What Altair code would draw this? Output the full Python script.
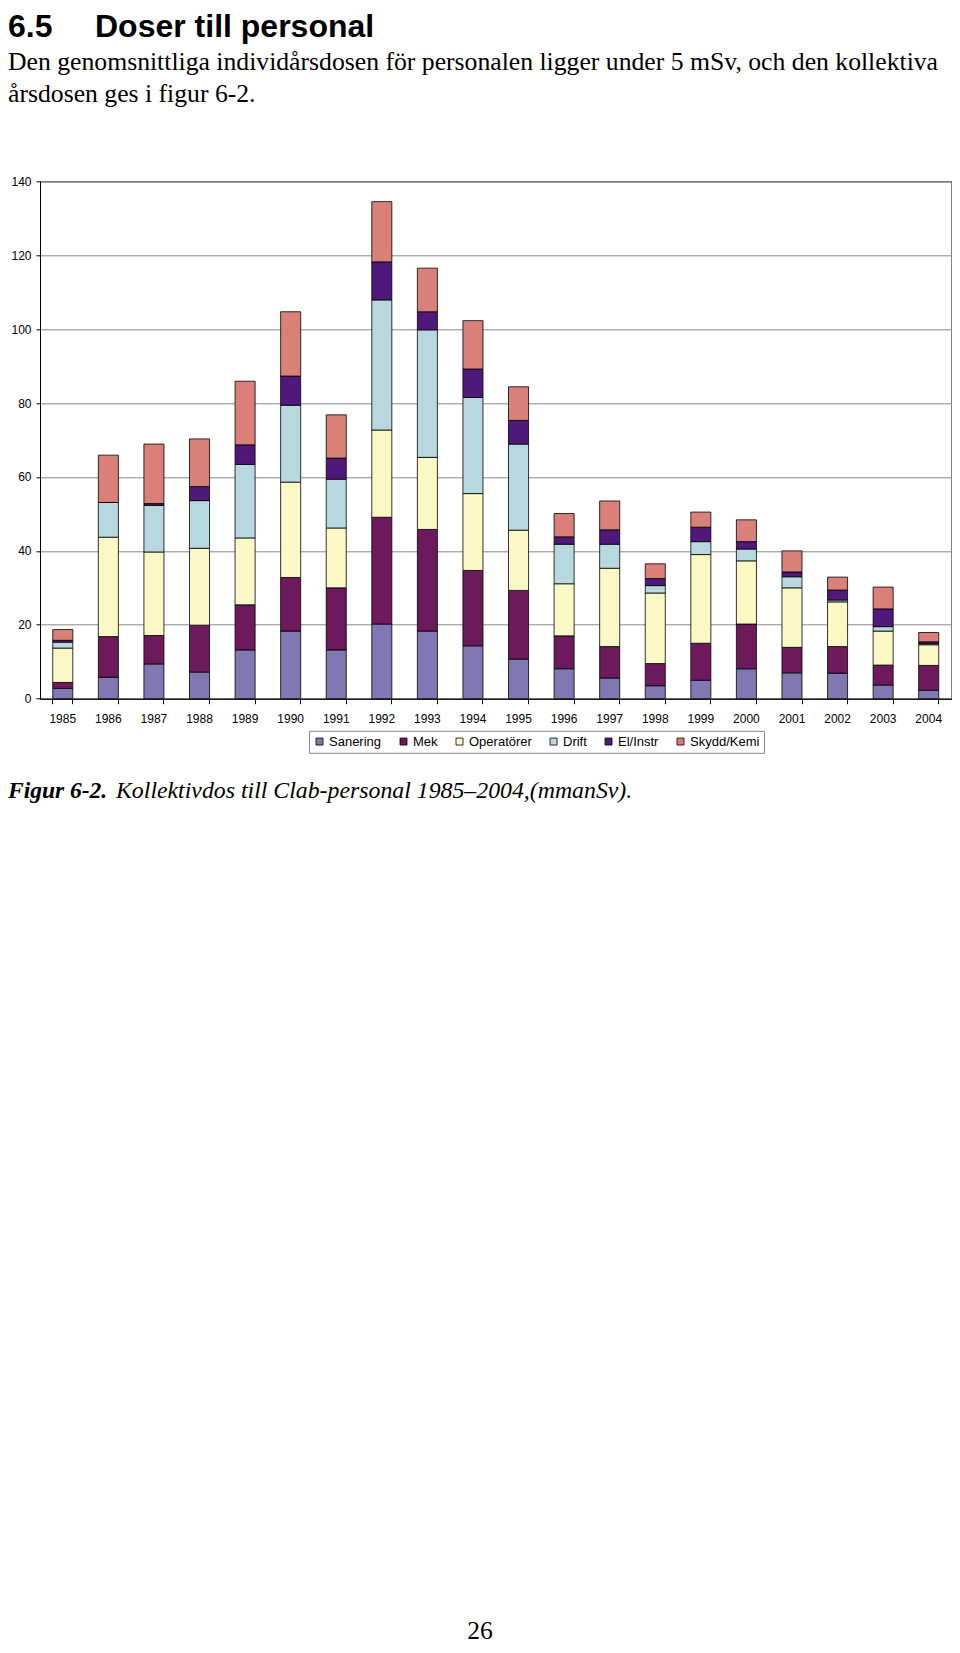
import altair as alt
import pandas as pd

# ---------------- data ----------------
years = ["1985", "1986", "1987", "1988", "1989", "1990", "1991", "1992", "1993", "1994",
         "1995", "1996", "1997", "1998", "1999", "2000", "2001", "2002", "2003", "2004"]
categories = ["Sanering", "Mek", "Operatörer", "Drift", "El/Instr", "Skydd/Kemi"]

sanering   = [2.8, 5.8, 9.4, 7.2, 13.2, 18.3, 13.2, 20.2, 18.3, 14.3, 10.7, 8.1, 5.6, 3.5, 5.0, 8.1, 7.0, 6.9, 3.7, 2.3]
mek        = [1.6, 11.0, 7.7, 12.7, 12.2, 14.5, 16.8, 28.9, 27.5, 20.4, 18.6, 8.9, 8.5, 6.0, 10.0, 12.1, 6.9, 7.2, 5.4, 6.7]
operatorer = [9.3, 26.9, 22.6, 20.8, 18.1, 25.8, 16.2, 23.6, 19.5, 20.8, 16.3, 14.1, 21.2, 19.1, 24.0, 17.1, 16.1, 12.1, 9.2, 5.6]
drift      = [1.6, 9.4, 12.6, 12.9, 19.9, 20.8, 13.2, 35.2, 34.5, 26.0, 23.3, 10.7, 6.5, 2.0, 3.5, 3.2, 3.0, 0.5, 1.2, 0.3]
el_instr   = [0.5, 0.0, 0.5, 3.8, 5.3, 7.9, 5.7, 10.3, 4.9, 7.7, 6.4, 2.0, 3.9, 1.9, 3.9, 2.0, 1.3, 2.7, 4.8, 0.5]
skydd_kemi = [2.9, 12.8, 16.1, 12.9, 17.2, 17.4, 11.7, 16.3, 11.8, 13.1, 9.1, 6.3, 7.8, 4.0, 4.1, 5.9, 5.7, 3.5, 5.9, 2.5]

colors = ["#8078B2", "#6D1A5C", "#FBF8C6", "#B8D8DF", "#50187A", "#D98079"]
y_ticks = [0, 20, 40, 60, 80, 100, 120, 140]

heading_num = "6.5"
heading_text = "Doser till personal"
para_lines = ["Den genomsnittliga individårsdosen för personalen ligger under 5 mSv, och den kollektiva",
              "årsdosen ges i figur 6-2."]
caption_bold = "Figur 6-2."
caption_rest = "Kollektivdos till Clab-personal 1985–2004,(mmanSv)."
page_number = "26"

# ---------------- table ----------------
series = [sanering, mek, operatorer, drift, el_instr, skydd_kemi]
rows = []
for k, (cat, vals) in enumerate(zip(categories, series)):
    for yr, v in zip(years, vals):
        rows.append({"year": yr, "category": cat, "value": v, "order": k})
df = pd.DataFrame(rows)

PLOT_W, PLOT_H = 911.5, 517.4

bars = alt.Chart(df).mark_bar(stroke="black", strokeWidth=0.8).encode(
    x=alt.X("year:N", sort=years,
            scale=alt.Scale(paddingInner=0.56, paddingOuter=0.28),
            axis=alt.Axis(title=None, labelAngle=0, bandPosition=1, tickExtra=True,
                          tickSize=5, labelPadding=10, labelOverlap=False, grid=False)),
    y=alt.Y("value:Q", stack="zero",
            scale=alt.Scale(domain=[0, 140], nice=False),
            axis=alt.Axis(title=None, values=y_ticks, grid=True, gridColor="#8a8a8a",
                          gridWidth=1, tickSize=4, labelPadding=5)),
    color=alt.Color("category:N", sort=categories,
                    scale=alt.Scale(domain=categories, range=colors),
                    legend=alt.Legend(title=None, orient="none", legendX=269, legendY=549.5,
                                      direction="horizontal", symbolType="square",
                                      symbolSize=49, symbolStrokeColor="black",
                                      symbolStrokeWidth=0.8, labelFont="Liberation Sans",
                                      labelFontSize=13, labelColor="black", labelOffset=3,
                                      columnPadding=15, padding=4, strokeColor="#888888",
                                      fillColor="white")),
    order=alt.Order("order:Q"),
)


def text_layer(txt, x, y, font, size, weight="normal", style="normal", align="left"):
    return alt.Chart(pd.DataFrame({"t": [txt]})).mark_text(
        font=font, fontSize=size, fontWeight=weight, fontStyle=style,
        align=align, baseline="alphabetic", color="black"
    ).encode(text="t:N", x=alt.value(x), y=alt.value(y))


# positions relative to the plot area's origin (plot origin at canvas x=32, y=173.3)
texts = [
    text_layer(heading_num, -32, -144.3, "Liberation Sans", 32, weight="bold"),
    text_layer(heading_text, 55, -144.3, "Liberation Sans", 32, weight="bold"),
    text_layer(para_lines[0], -32, -110.9, "Liberation Serif", 25.7),
    text_layer(para_lines[1], -32, -79.3, "Liberation Serif", 25.7),
    text_layer(caption_bold, -32, 616.7, "Liberation Serif", 23.5, weight="bold", style="italic"),
    text_layer(caption_rest, 76, 616.7, "Liberation Serif", 23.8, style="italic"),
    text_layer(page_number, 440, 1457.7, "Liberation Serif", 25.6, align="center"),
]

chart = alt.layer(bars, *texts).properties(
    width=PLOT_W, height=PLOT_H,
    padding={"left": 32, "top": 173.3, "right": 0.5, "bottom": 946.3},
    autosize=alt.AutoSizeParams(type="none"),
    background="white",
).configure_axis(
    labelFont="Liberation Sans", labelFontSize=12, labelColor="black",
    domainColor="black", tickColor="black", domainWidth=1, tickWidth=1,
).configure_view(stroke="black", strokeWidth=1)

chart.save("out.html", embed_options={"renderer": "svg", "actions": False})
